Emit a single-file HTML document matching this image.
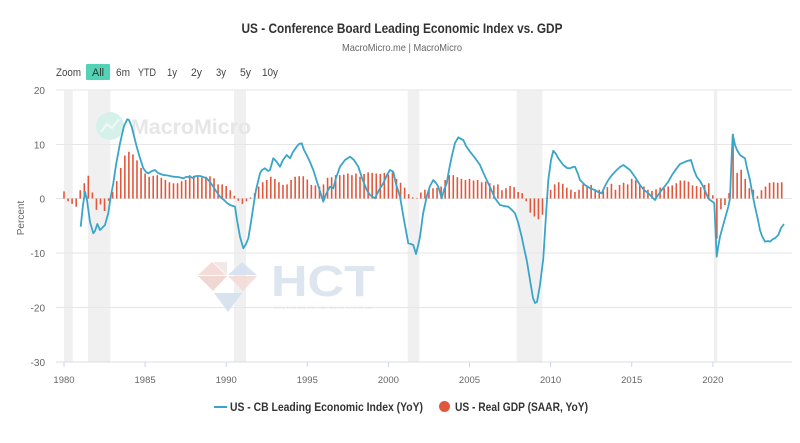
<!DOCTYPE html>
<html><head><meta charset="utf-8">
<style>
html,body{margin:0;padding:0;background:#fff;}
svg{display:block;font-family:"Liberation Sans",sans-serif;}
</style></head>
<body>
<svg width="800" height="443" viewBox="0 0 800 443" xmlns="http://www.w3.org/2000/svg">
<rect width="800" height="443" fill="#fff"/>
<!-- title -->
<text x="402" y="33" text-anchor="middle" font-size="14" font-weight="bold" fill="#333" textLength="321" lengthAdjust="spacingAndGlyphs">US - Conference Board Leading Economic Index vs. GDP</text>
<text x="402" y="51" text-anchor="middle" font-size="10.5" fill="#666" textLength="120" lengthAdjust="spacingAndGlyphs">MacroMicro.me | MacroMicro</text>
<!-- range selector -->
<g font-size="11" fill="#444">
<text x="56" y="76" textLength="25" lengthAdjust="spacingAndGlyphs">Zoom</text>
<rect x="86" y="64" width="24" height="16" rx="1" fill="#52d3b4"/>
<text x="92" y="76" textLength="12" lengthAdjust="spacingAndGlyphs" fill="#333">All</text>
<text x="116" y="76" textLength="14" lengthAdjust="spacingAndGlyphs">6m</text>
<text x="138" y="76" textLength="18" lengthAdjust="spacingAndGlyphs">YTD</text>
<text x="167" y="76" textLength="10" lengthAdjust="spacingAndGlyphs">1y</text>
<text x="191" y="76" textLength="11" lengthAdjust="spacingAndGlyphs">2y</text>
<text x="216" y="76" textLength="10" lengthAdjust="spacingAndGlyphs">3y</text>
<text x="240" y="76" textLength="11" lengthAdjust="spacingAndGlyphs">5y</text>
<text x="262" y="76" textLength="16" lengthAdjust="spacingAndGlyphs">10y</text>
</g>
<!-- recession bands -->
<g fill="#f0f0f0">
<rect x="64" y="90" width="8.7" height="272"/>
<rect x="88" y="90" width="22.3" height="272"/>
<rect x="234" y="90" width="12" height="272"/>
<rect x="407.7" y="90" width="11.6" height="272"/>
<rect x="516.7" y="90" width="25.6" height="272"/>
<rect x="714" y="90" width="3.3" height="272"/>
</g>
<!-- gridlines -->
<g stroke="#e6e6e6" stroke-width="1">
<line x1="56" x2="792" y1="90" y2="90"/>
<line x1="56" x2="792" y1="144.5" y2="144.5"/>
<line x1="56" x2="792" y1="198.5" y2="198.5"/>
<line x1="56" x2="792" y1="253" y2="253"/>
<line x1="56" x2="792" y1="307.5" y2="307.5"/>
</g>
<line x1="56" x2="792" y1="362" y2="362" stroke="#d8dde6" stroke-width="1"/>
<g stroke="#ccd6eb" stroke-width="1">
<line x1="64" x2="64" y1="362" y2="367"/>
<line x1="145.1" x2="145.1" y1="362" y2="367"/>
<line x1="226.2" x2="226.2" y1="362" y2="367"/>
<line x1="307.3" x2="307.3" y1="362" y2="367"/>
<line x1="388.4" x2="388.4" y1="362" y2="367"/>
<line x1="469.5" x2="469.5" y1="362" y2="367"/>
<line x1="550.6" x2="550.6" y1="362" y2="367"/>
<line x1="631.7" x2="631.7" y1="362" y2="367"/>
<line x1="712.8" x2="712.8" y1="362" y2="367"/>
</g>
<!-- y labels -->
<g font-size="10" fill="#666" text-anchor="end">
<text x="45" y="94">20</text>
<text x="45" y="148.5">10</text>
<text x="45" y="202.5">0</text>
<text x="45" y="257">-10</text>
<text x="45" y="311.5">-20</text>
<text x="45" y="366">-30</text>
</g>
<text x="0" y="0" font-size="10" fill="#666" text-anchor="middle" transform="translate(24,218) rotate(-90)">Percent</text>
<!-- x labels -->
<g font-size="9.5" fill="#666" text-anchor="middle">
<text x="64" y="383">1980</text>
<text x="145.1" y="383">1985</text>
<text x="226.2" y="383">1990</text>
<text x="307.3" y="383">1995</text>
<text x="388.4" y="383">2000</text>
<text x="469.5" y="383">2005</text>
<text x="550.6" y="383">2010</text>
<text x="631.7" y="383">2015</text>
<text x="712.8" y="383">2020</text>
</g>
<!-- watermarks -->
<circle cx="110" cy="126" r="14" fill="#d6f1ea"/>
<path d="M101 132 L107 124 L112 128 L119 119" stroke="#eefaf6" stroke-width="2" fill="none"/>
<text x="131" y="134" font-size="21" font-weight="bold" fill="#e6e6e6" textLength="120" lengthAdjust="spacingAndGlyphs">MacroMicro</text>
<g opacity="0.9">
<polygon points="198,275 212,262 226,275" fill="#f4d9d5"/>
<polygon points="228,275 242,262 257,275" fill="#d6e2ef"/>
<polygon points="213,262 227,262 227,275" fill="#f1e6e6"/>
<polygon points="198,276 227,276 213,291" fill="#eed3cf"/>
<polygon points="228,276 257,276 243,291" fill="#f3dcd8"/>
<polygon points="214,293 242,293 228,312" fill="#d4e1ee"/>
</g>
<text x="271" y="296" font-size="44" font-weight="bold" fill="#dde5ee" textLength="104" lengthAdjust="spacingAndGlyphs">HCT</text>
<text x="274" y="309" font-size="4" fill="#e2e2e2" textLength="98" lengthAdjust="spacingAndGlyphs">KIẾN TẠO GIÁ TRỊ - XÂY DỰNG TƯƠNG LAI</text>
<!-- GDP bars -->
<path stroke="#e2573c" stroke-width="1.6" fill="none" d="
M64.0,198.5V191.4M68.06,198.5V201.2M72.11,198.5V203.9M76.17,198.5V206.7
M80.22,198.5V190.3M84.28,198.5V183.3M88.33,198.5V175.7M92.39,198.5V192.5
M96.44,198.5V209.9M100.5,198.5V204.5M104.55,198.5V211.0M108.61,198.5V200.7
M112.66,198.5V192.0M116.72,198.5V181.1M120.77,198.5V168.0M124.83,198.5V155.5
M128.88,198.5V151.7M132.94,198.5V154.4M136.99,198.5V160.4M141.05,198.5V168.0
M145.1,198.5V173.5M149.16,198.5V176.7M153.21,198.5V175.7M157.27,198.5V175.1
M161.32,198.5V177.8M165.38,198.5V180.0M169.43,198.5V182.2M173.49,198.5V183.3
M177.54,198.5V183.3M181.6,198.5V181.1M185.65,198.5V180.0M189.71,198.5V175.1
M193.76,198.5V175.7M197.82,198.5V176.7M201.87,198.5V177.8M205.93,198.5V176.7
M209.98,198.5V176.2M214.04,198.5V178.4M218.09,198.5V184.4M222.15,198.5V184.4
M226.2,198.5V186.0M230.26,198.5V190.3M234.31,198.5V195.8M238.37,198.5V200.7
M242.42,198.5V203.9M246.48,198.5V201.2M250.53,198.5V197.4M254.59,198.5V193.1
M258.64,198.5V186.5M262.7,198.5V182.2M266.75,198.5V180.0M270.81,198.5V176.7
M274.86,198.5V178.9M278.92,198.5V182.2M282.97,198.5V184.9M287.03,198.5V184.4
M291.08,198.5V180.0M295.14,198.5V176.7M299.19,198.5V176.2M303.25,198.5V176.2
M307.3,198.5V179.5M311.36,198.5V184.9M315.41,198.5V185.4M319.47,198.5V186.5
M323.52,198.5V184.4M327.58,198.5V177.8M331.63,198.5V177.3M335.69,198.5V175.1
M339.74,198.5V175.1M343.8,198.5V174.6M347.85,198.5V173.5M351.91,198.5V175.1
M355.96,198.5V173.5M360.02,198.5V176.7M364.07,198.5V174.0M368.13,198.5V172.4
M372.18,198.5V172.9M376.24,198.5V173.5M380.29,198.5V174.0M384.35,198.5V172.9
M388.4,198.5V174.6M392.46,198.5V172.4M396.51,198.5V178.9M400.57,198.5V182.7
M404.62,198.5V187.6M408.68,198.5V194.1M412.73,198.5V197.4M416.79,198.5V198.0
M420.84,198.5V192.5M424.9,198.5V189.8M428.95,198.5V188.7M433.01,198.5V188.2
M437.06,198.5V187.6M441.12,198.5V186.5M445.17,198.5V180.0M449.23,198.5V175.1
M453.28,198.5V175.1M457.34,198.5V177.3M461.39,198.5V178.9M465.45,198.5V180.0
M469.5,198.5V178.9M473.56,198.5V180.5M477.61,198.5V180.0M481.67,198.5V182.2
M485.72,198.5V181.6M489.78,198.5V183.3M493.83,198.5V185.4M497.89,198.5V184.4
M501.94,198.5V190.3M506.0,198.5V188.2M510.05,198.5V186.0M514.11,198.5V187.1
M518.16,198.5V192.0M522.22,198.5V193.1M526.27,198.5V201.2M530.33,198.5V212.6
M534.38,198.5V216.5M538.44,198.5V219.2M542.49,198.5V214.8M546.55,198.5V199.0
M550.6,198.5V189.8M554.66,198.5V184.4M558.71,198.5V182.2M562.77,198.5V183.8
M566.82,198.5V187.6M570.88,198.5V189.8M574.93,198.5V192.0M578.99,198.5V189.8
M583.04,198.5V184.4M587.1,198.5V185.4M591.15,198.5V184.9M595.21,198.5V190.3
M599.26,198.5V189.8M603.32,198.5V191.4M607.37,198.5V187.1M611.43,198.5V183.8
M615.48,198.5V189.8M619.54,198.5V184.9M623.59,198.5V182.7M627.65,198.5V184.4
M631.7,198.5V178.9M635.76,198.5V180.5M639.81,198.5V185.4M643.87,198.5V186.5
M647.92,198.5V189.8M651.98,198.5V190.9M656.03,198.5V189.3M660.09,198.5V187.6
M664.14,198.5V188.2M668.2,198.5V186.5M672.25,198.5V185.4M676.31,198.5V183.3
M680.36,198.5V180.5M684.42,198.5V180.5M688.47,198.5V181.6M692.53,198.5V185.4
M696.58,198.5V186.0M700.64,198.5V187.1M704.69,198.5V184.9M708.75,198.5V183.3
M712.8,198.5V195.2M716.86,198.5V238.8M720.91,198.5V209.4M724.97,198.5V205.0
M729.02,198.5V193.1M733.08,198.5V133.8M737.13,198.5V172.9M741.19,198.5V169.7
M745.24,198.5V178.9M749.3,198.5V188.2M753.35,198.5V189.8M757.41,198.5V196.3
M761.46,198.5V190.3M765.52,198.5V186.5M769.57,198.5V182.7M773.63,198.5V182.2
M777.68,198.5V182.7M781.74,198.5V182.2"/>
<!-- LEI line -->
<polyline fill="none" stroke="#3aa5c9" stroke-width="1.8" stroke-linejoin="round" points="
80.7,226.7 83,205 85,191.7 87,200 90,222 93.3,233.3 95,231 97.3,224 100,230 102,228 105,225 108.3,213 110.5,198 113.3,183.3 116,165 120,143.3 124,126 127.3,119.3 129,120 131.7,126.7 134,136 136.7,146.7 140,158 143.3,168.3 146,172 148.3,173.3 152,171 155,170 158,173 163.3,175 168,175.5 173.3,176.7 178,177 183.3,178.3 186,177 190,176.7 193,178 196,176 200,176 203,177 206.7,178.3 210,182 213.3,186.7 216,191 220,196.7 224,200 227,203 230,205 233,206 235,206.7 237,220 240,236.7 243.3,248.3 246,244 248.3,238.3 251,222 253.3,206.7 256,190 260,173.3 262,170 265,168.3 268,171 270,170 273.3,158.3 276,161 280,166.7 283,160 286.7,155 290,158.3 293,152 296.7,146.7 299,144 301.7,143.3 304,150 306.7,155 310,162 313.3,170 318,185 323.3,201.7 326,194 330,186.7 333.3,188.3 336,178 340,166.7 345,160 350,156.7 354,160 358.3,166.7 362,178 366.7,190 370,195 375,198.3 379,190 383.3,183.3 387,175 390,170 393.3,171.7 396,184 400,196.7 404,220 408.3,243.3 411,244 413.3,245 416,254 418,246 420,236.7 423,214 426.7,196.7 430,186 433.3,180 436,183 438.3,186.7 441.7,198.3 444,190 446.7,183.3 449,170 451.7,156.7 455,143 458.3,137.3 461,139 463.3,140 466,146 470,151.7 475,158 480,165 483,172 486.7,180 490,187 495,198.3 500,205 504,206 508.3,206.7 512,210 515,213.3 518,222 521.7,236.7 524,248 526.7,260 530,280 533,298 535,303 537,302 540,285 543.3,258.3 546,215 548.3,180 551,160 553.3,150.7 556,154 558.3,158.3 561,162 563.3,165 567,168 570,168.3 573,167 575,166.7 578,174 580,180 583,183 585,185 590,188.3 595,190 598,192 601.7,193.3 605,186 608.3,180 612,175 616.7,170 620,167 623.3,165 626,167 630,170 635,177 640,185 644,190 648.3,193.3 652,197 655,200 658,195 661.7,190 665,186 668.3,181.7 672,175 676.7,168.3 680,164 683.3,162.7 687,161 691,160 694,170 696.7,176.7 700,181 703.3,186.7 706,193 708.3,198.3 710,200 712.7,201.7 714.3,203.3 716.7,256.7 718,248 720,236.7 724,222 728.3,206.7 730,198.3 731.5,160 732.7,135 734,140 735,145 737,150 740,155 743,157 745,158.3 747,168 750,180 752,192 755,206.7 758,220 760,230 762,236 765,241.7 768,241 770,241.7 773,239 775,238.3 778.3,235 781,228 784,224"/>
<!-- legend -->
<line x1="214" x2="227" y1="407" y2="407" stroke="#3aa5c9" stroke-width="2"/>
<text x="230" y="411" font-size="12" font-weight="bold" fill="#333" textLength="193" lengthAdjust="spacingAndGlyphs">US - CB Leading Economic Index (YoY)</text>
<circle cx="444.5" cy="406.5" r="5.5" fill="#e2573c"/>
<text x="455" y="411" font-size="12" font-weight="bold" fill="#333" textLength="133" lengthAdjust="spacingAndGlyphs">US - Real GDP (SAAR, YoY)</text>
</svg>
</body></html>
